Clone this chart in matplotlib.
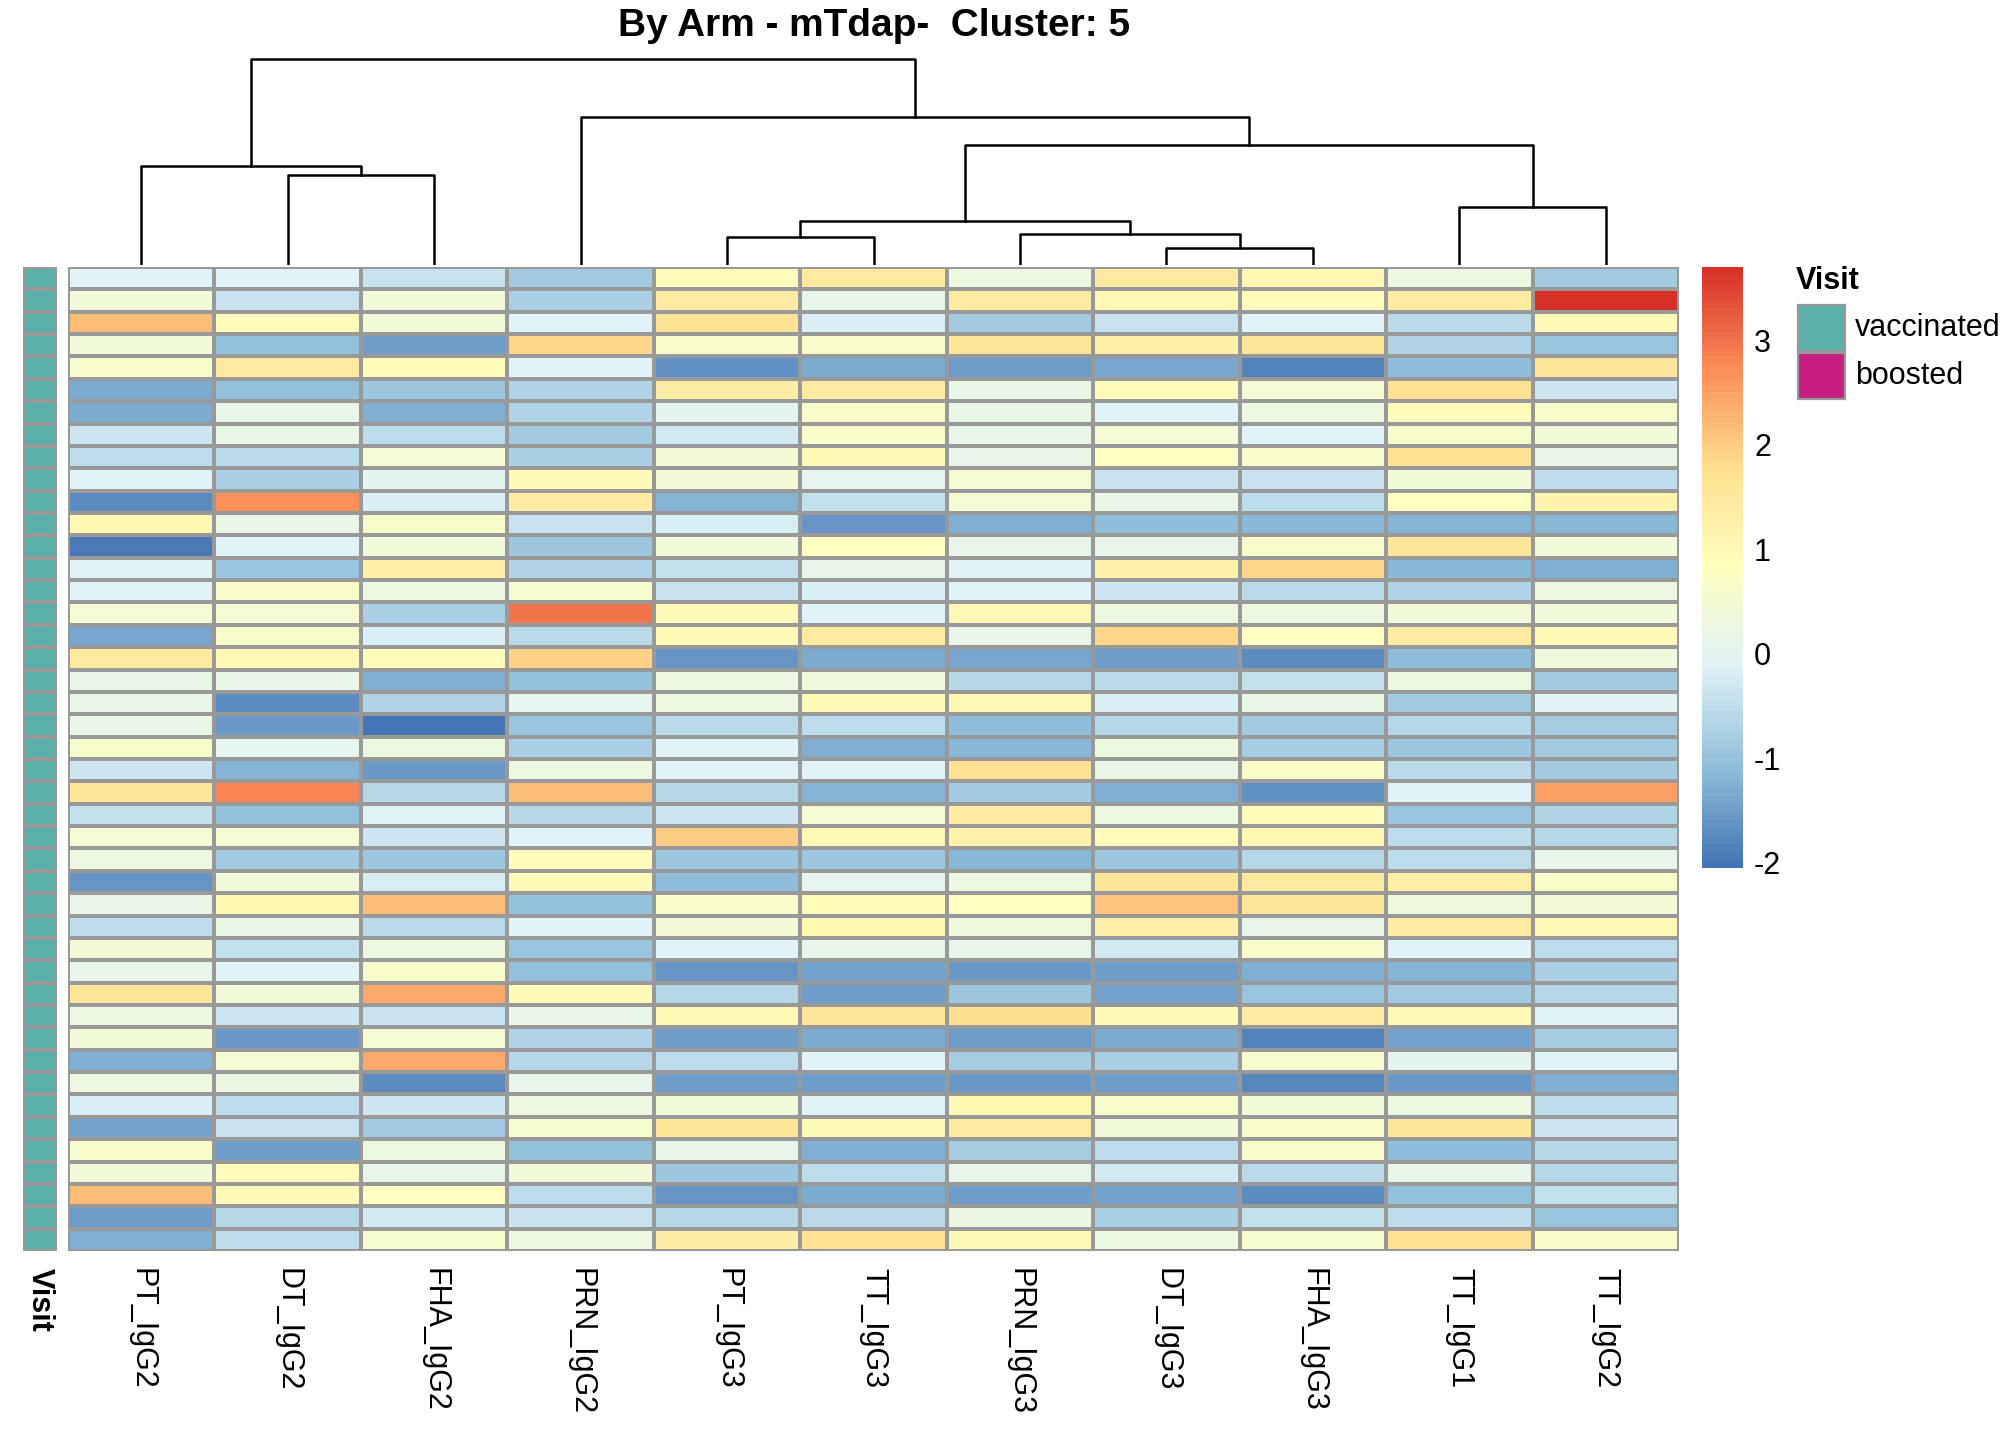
import numpy as np
import matplotlib
matplotlib.use("Agg")
import matplotlib.pyplot as plt
from matplotlib.colors import LinearSegmentedColormap
from matplotlib.patches import Rectangle

plt.rcParams["font.family"] = ["Liberation Sans", "DejaVu Sans"]
plt.rcParams["axes.unicode_minus"] = False

columns = ["PT_IgG2", "DT_IgG2", "FHA_IgG2", "PRN_IgG2", "PT_IgG3", "TT_IgG3",
           "PRN_IgG3", "DT_IgG3", "FHA_IgG3", "TT_IgG1", "TT_IgG2"]

values = [
    [-0.1, -0.1, -0.4, -0.9, 0.9, 1.5, 0.3, 1.5, 1.1, 0.3, -0.85],
    [0.4, -0.4, 0.4, -0.75, 1.4, 0.1, 1.4, 1.0, 0.9, 1.4, 3.7],
    [2.2, 0.9, 0.4, -0.15, 1.7, -0.2, -0.9, -0.4, -0.15, -0.6, 0.95],
    [0.4, -1.05, -1.5, 1.9, 0.6, 0.6, 1.6, 1.3, 1.6, -0.7, -1.0],
    [0.6, 1.5, 0.9, -0.15, -1.65, -1.35, -1.5, -1.4, -1.85, -1.1, 1.6],
    [-1.35, -1.05, -0.95, -0.7, 1.35, 1.4, 0.15, 0.9, 0.5, 1.7, -0.35],
    [-1.35, 0.1, -1.25, -0.7, 0.0, 0.7, 0.15, -0.1, 0.3, 0.9, 0.6],
    [-0.35, 0.15, -0.55, -0.9, -0.3, 0.7, 0.1, 0.5, -0.1, 0.6, 0.4],
    [-0.55, -0.6, 0.5, -0.75, 0.45, 0.95, 0.1, 0.8, 0.6, 1.7, 0.15],
    [-0.1, -0.75, 0.0, 0.95, 0.45, 0.05, 0.5, -0.4, -0.4, 0.4, -0.55],
    [-1.75, 2.7, -0.2, 1.4, -1.2, -0.45, 0.5, 0.15, -0.55, 0.8, 1.2],
    [1.1, 0.15, 0.6, -0.4, -0.25, -1.6, -1.3, -1.1, -1.15, -1.2, -1.15],
    [-1.95, -0.1, 0.4, -0.95, 0.4, 0.8, 0.1, 0.1, 0.6, 1.6, 0.4],
    [-0.15, -1.0, 1.3, -0.7, -0.45, 0.1, -0.1, 1.2, 1.9, -1.15, -1.25],
    [-0.15, 0.6, 0.25, 0.55, -0.4, -0.2, -0.15, -0.35, -0.6, -0.7, 0.3],
    [0.5, 0.5, -0.75, 3.0, 0.95, -0.1, 1.0, 0.25, 0.25, 0.4, 0.4],
    [-1.4, 0.6, -0.2, -0.6, 0.95, 1.5, 0.1, 1.9, 0.8, 1.4, 0.95],
    [1.5, 1.0, 0.9, 1.95, -1.6, -1.35, -1.4, -1.5, -1.75, -1.1, 0.35],
    [0.15, 0.15, -1.3, -1.05, 0.3, 0.35, -0.65, -0.6, -0.45, 0.3, -0.85],
    [0.15, -1.75, -0.7, 0.05, 0.25, 0.95, 1.05, -0.2, 0.15, -0.9, -0.05],
    [0.15, -1.55, -2.05, -1.0, -0.6, -0.5, -1.1, -0.65, -0.85, -0.65, -0.8],
    [0.6, 0.05, 0.3, -0.75, -0.1, -1.3, -1.15, 0.25, -0.8, -0.95, -0.85],
    [-0.35, -1.2, -1.55, 0.3, -0.1, -0.1, 1.7, 0.15, 0.7, -0.6, -0.85],
    [1.6, 2.8, -0.65, 2.2, -0.65, -1.2, -0.85, -1.3, -1.65, -0.1, 2.5],
    [-0.45, -1.05, -0.1, -0.65, -0.35, 0.5, 1.4, 0.3, 0.9, -1.0, -0.7],
    [0.5, 0.5, -0.35, -0.15, 2.0, 1.0, 1.2, 0.9, 1.1, -0.55, -0.65],
    [0.3, -0.85, -0.95, 0.9, -0.95, -0.95, -1.15, -0.95, -0.65, -0.5, 0.1],
    [-1.6, 0.4, -0.25, 0.95, -1.1, 0.05, 0.3, 1.6, 1.5, 1.3, 0.7],
    [0.1, 1.1, 2.2, -1.05, 0.65, 0.9, 0.85, 2.1, 1.6, 0.35, 0.45],
    [-0.5, 0.15, -0.6, -0.1, 0.45, 1.1, 0.35, 1.3, 0.1, 1.4, 1.0],
    [0.45, -0.45, 0.3, -1.0, -0.1, 0.1, 0.1, -0.3, 0.6, -0.1, -0.55],
    [0.1, -0.1, 0.6, -1.05, -1.6, -1.45, -1.55, -1.5, -1.25, -1.2, -0.75],
    [1.6, 0.4, 2.4, 0.95, -0.65, -1.5, -0.95, -1.45, -1.0, -0.9, -0.65],
    [0.3, -0.35, -0.4, 0.1, 1.0, 1.6, 1.8, 0.95, 1.4, 1.0, -0.1],
    [0.4, -1.55, 0.5, -0.7, -1.5, -1.35, -1.5, -1.35, -1.85, -1.45, -0.8],
    [-1.25, 0.5, 2.4, -0.65, -0.5, -0.1, -0.8, -0.75, 0.55, 0.0, -0.15],
    [0.3, 0.2, -1.75, 0.1, -1.5, -1.5, -1.55, -1.5, -1.8, -1.55, -1.3],
    [-0.2, -0.5, -0.35, 0.3, 0.4, -0.1, 1.1, 0.6, 0.4, 0.3, -0.5],
    [-1.45, -0.4, -0.85, 0.55, 1.6, 0.95, 1.5, 0.4, 0.6, 1.6, -0.35],
    [0.6, -1.5, 0.3, -1.05, 0.1, -1.25, -0.8, -0.55, 0.6, -1.1, -0.65],
    [0.4, 0.9, 0.1, 0.4, -0.95, -0.55, 0.1, -0.3, -0.6, 0.1, -0.65],
    [2.2, 0.95, 0.8, -0.5, -1.6, -1.35, -1.5, -1.45, -1.75, -1.05, -0.45],
    [-1.5, -0.65, -0.3, -0.4, -0.65, -0.6, 0.2, -0.75, -0.45, -0.55, -1.0],
    [-1.25, -0.5, 0.55, 0.25, 1.35, 1.7, 0.95, 0.3, 0.55, 1.7, 0.6],
]

# column dendrogram: (left members, right members, height)
merges = [
    ([1], [2], 70),
    ([0], [1, 2], 77),
    ([4], [5], 22),
    ([7], [8], 13),
    ([6], [7, 8], 24),
    ([4, 5], [6, 7, 8], 34),
    ([9], [10], 45),
    ([4, 5, 6, 7, 8], [9, 10], 93),
    ([3], [4, 5, 6, 7, 8, 9, 10], 115),
    ([0, 1, 2], [3, 4, 5, 6, 7, 8, 9, 10], 160),
]

visit_groups = ["vaccinated", "boosted"]
visit_colors = ["#5BB1A9", "#C71D7E"]

data = np.array(values)
nrow, ncol = data.shape
vmin, vmax = -2.05, 3.7

cmap = LinearSegmentedColormap.from_list(
    "rdylbu_r", ["#4575B4", "#91BFDB", "#E0F3F8", "#FFFFBF", "#FEE090", "#FC8D59", "#D73027"], N=100)

W, H = 2016, 1440
fig = plt.figure(figsize=(W / 100, H / 100), dpi=100)

def box(l, t, r, b):
    return [l / W, 1 - b / H, (r - l) / W, (b - t) / H]

grey = "#999999"
fs = 22

# heatmap
ax = fig.add_axes(box(68, 267, 1679, 1251))
ax.pcolormesh(np.arange(ncol + 1), np.arange(nrow + 1), data, cmap=cmap, vmin=vmin, vmax=vmax,
              edgecolors=grey, linewidth=1.6)
ax.set_xlim(0, ncol)
ax.set_ylim(nrow, 0)
ax.set_xticks(np.arange(ncol) + 0.5)
ax.set_xticklabels(columns, rotation=270, fontsize=fs, va="top")
ax.tick_params(axis="x", length=0, pad=12)
ax.set_yticks([])
for s in ax.spines.values():
    s.set_visible(False)

# visit annotation
axv = fig.add_axes(box(23, 267, 57, 1251))
axv.pcolormesh(np.arange(2), np.arange(nrow + 1), np.zeros((nrow, 1)),
               cmap=LinearSegmentedColormap.from_list("v", [visit_colors[0], visit_colors[0]]),
               edgecolors=grey, linewidth=1.6)
axv.set_xlim(0, 1)
axv.set_ylim(nrow, 0)
axv.set_xticks([0.5])
axv.set_xticklabels(["Visit"], rotation=270, fontsize=fs, fontweight="bold", va="top")
axv.tick_params(axis="x", length=0, pad=12)
axv.set_yticks([])
for s in axv.spines.values():
    s.set_visible(False)

# dendrogram
axd = fig.add_axes(box(68, 58, 1679, 265))
node_x = {tuple([i]): i + 0.5 for i in range(ncol)}
node_h = {tuple([i]): 0 for i in range(ncol)}
for left, right, h in merges:
    lx, rx = node_x[tuple(left)], node_x[tuple(right)]
    lh, rh = node_h[tuple(left)], node_h[tuple(right)]
    axd.plot([lx, lx, rx, rx], [lh, h, h, rh], color="black", linewidth=1.8)
    key = tuple(sorted(left + right))
    node_x[key] = (lx + rx) / 2
    node_h[key] = h
axd.set_xlim(0, ncol)
axd.set_ylim(0, 161)
axd.axis("off")

fig.text(874 / W, 1 - 26 / H, "By Arm - mTdap-  Cluster: 5", ha="center", va="center",
         fontsize=28, fontweight="bold")

# colorbar
axc = fig.add_axes(box(1702, 267, 1743, 868))
grad = np.linspace(vmin, vmax, 200).reshape(-1, 1)
axc.imshow(grad, aspect="auto", cmap=cmap, vmin=vmin, vmax=vmax, origin="lower",
           extent=[0, 1, vmin, vmax])
axc.set_xticks([])
axc.yaxis.tick_right()
axc.set_yticks([-2, -1, 0, 1, 2, 3])
axc.tick_params(axis="y", length=0, labelsize=fs, pad=8)
for s in axc.spines.values():
    s.set_visible(False)

# legend
fig.text(1796 / W, 1 - 281 / H, "Visit", fontsize=fs, fontweight="bold", va="center", ha="left")
for i, (lab, col) in enumerate(zip(visit_groups, visit_colors)):
    top = 305 + i * 48
    fig.add_artist(Rectangle((1798 / W, 1 - (top + 46) / H), 47 / W, 46 / H,
                             transform=fig.transFigure, facecolor=col, edgecolor=grey, linewidth=1.6))
    fig.text(1855 / W, 1 - (top + 23) / H, lab, fontsize=fs, va="center", ha="left")

fig.savefig("out.png", dpi=100)
